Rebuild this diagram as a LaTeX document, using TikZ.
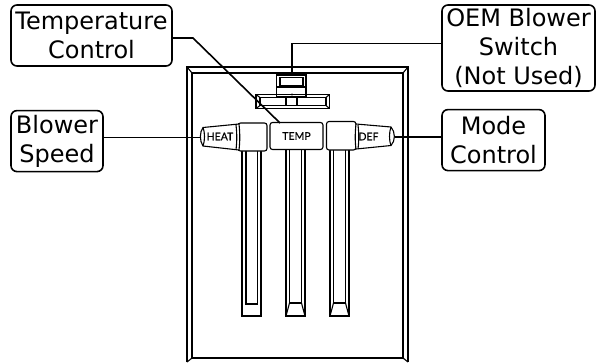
\documentclass[tikz,border=0pt]{standalone}
\usepackage{fontspec}
\setmainfont{DejaVu Sans}
\newfontfamily\knobfont[FakeBold=0.4]{Lato}
\usetikzlibrary{positioning}

\begin{document}
\begin{tikzpicture}[
        x=1pt, y=-1pt,
        box/.style={draw, rectangle, rounded corners=6pt, line width=1.6pt, align=center, inner sep=0pt, font=\fontsize{24}{29}\selectfont},
        knob/.style={inner sep=0pt, font=\knobfont\fontsize{10.5}{12}\selectfont},
        part/.style={line width=1.1pt},
        lead/.style={line width=1.6pt}
    ]
    \useasboundingbox (0,0) rectangle (605,362);

    % Labels
    \node[box, minimum width=161pt, minimum height=61pt] (tempctl) at (91.5,35.5) {Temperature\\Control};
    \node[box, minimum width=92pt, minimum height=61pt, below=43pt of tempctl.south west, anchor=north west] (speed) {Blower\\Speed};
    \node[box, minimum width=153pt, minimum height=86pt] (oem) at (518.5,48) {OEM Blower\\Switch\\(Not Used)};
    \node[box, minimum width=103pt, minimum height=61pt, below=17pt of oem.south west, anchor=north west] (mode) {Mode\\Control};

    % Panel
    \draw[part] (187,362) -- (187,67) -- (408,67) -- (408,362);
    \draw[part] (192,358) -- (192,73) -- (403,73) -- (403,358) -- cycle;
    \draw[part] (187,67) -- (192,73) (408,67) -- (403,73) (187,362) -- (192,358) (408,362) -- (403,358);

    % Slots
    \draw[part] (242,151) -- (242,316) -- (261,316) -- (261,151);
    \draw[part] (246,151) -- (246,304) -- (257.5,304) -- (257.5,151);
    \foreach \sx/\ytop in {286/149.5, 330/150} {
        \draw[part] (\sx,\ytop) -- (\sx,316) -- (\sx+19,316) -- (\sx+19,\ytop);
        \draw[part] (\sx+3.5,\ytop) -- (\sx+3.5,303) -- (\sx+15.5,303) -- (\sx+15.5,\ytop);
        \draw[part] (\sx+3.5,303) -- (\sx,316) (\sx+15.5,303) -- (\sx+19,316);
    }

    % OEM switch
    \draw[part] (276.5,75) rectangle (306,97);
    \draw[part] (280,77.5) rectangle (303,86);
    \draw[part] (276.5,87) -- (306,87);
    \draw[line width=1.4pt] (256,94.5) rectangle (329.5,108.5);
    \draw[part] (260,97.5) rectangle (326,105.5);
    \draw[part] (256,94.5) -- (260,97.5) (329.5,94.5) -- (326,97.5) (256,108.5) -- (260,105.5) (329.5,108.5) -- (326,105.5);
    \draw[part] (286,97.5) rectangle (297,105.5);
    \fill (292,94.5) circle (1.2pt);

    % Knobs
    \draw[part, fill=white, rounded corners=2.5pt] (238,123) rectangle (267,151);
    \draw[part, fill=white] (239,124) .. controls (240,133) and (240,142) .. (239,150) -- (203,146) .. controls (199.5,141) and (199.5,132) .. (203,127.5) -- cycle;
    \draw[part] (236,125) .. controls (237,133) and (237,142) .. (236,149.5);
    \draw[part] (203,127.5) .. controls (205,132) and (205,141) .. (203,146);
    \node[knob] (heat) at (220,136.5) {HEAT};
    \node[knob, draw, line width=1.1pt, fill=white, rounded corners=2.5pt, minimum width=53pt, minimum height=27pt] (temp) at (296.5,136) {TEMP};
    \draw[part, fill=white, rounded corners=2.5pt] (326.5,121.5) rectangle (356,150);
    \draw[part, fill=white] (356,124) .. controls (355,133) and (355,142) .. (356,149) -- (391,145.5) .. controls (395.5,141) and (395.5,132) .. (391,127) -- cycle;
    \draw[part] (358,125) .. controls (359,133) and (359,142) .. (358,148.5);
    \draw[part] (391,127) .. controls (389,132) and (389,141) .. (391,145.5);
    \node[knob] (def) at (368.5,136.5) {DEF};

    % Leader ends
    \coordinate (tempend) at (280,123);
    \coordinate (tempbend) at (193,38);
    \coordinate (heatend) at (200,137.5);
    \coordinate (defend) at (395,137);
    \coordinate (switchend) at (292,75);

    % Leaders
    \draw[lead] (tempctl.east |- tempbend) -- (tempbend) -- (tempend);
    \draw[lead] (speed.east |- heatend) -- (heatend);
    \draw[lead] (oem.west |- 0,43.5) -| (switchend);
    \draw[lead] (mode.west |- defend) -- (defend);

\end{tikzpicture}
\end{document}
